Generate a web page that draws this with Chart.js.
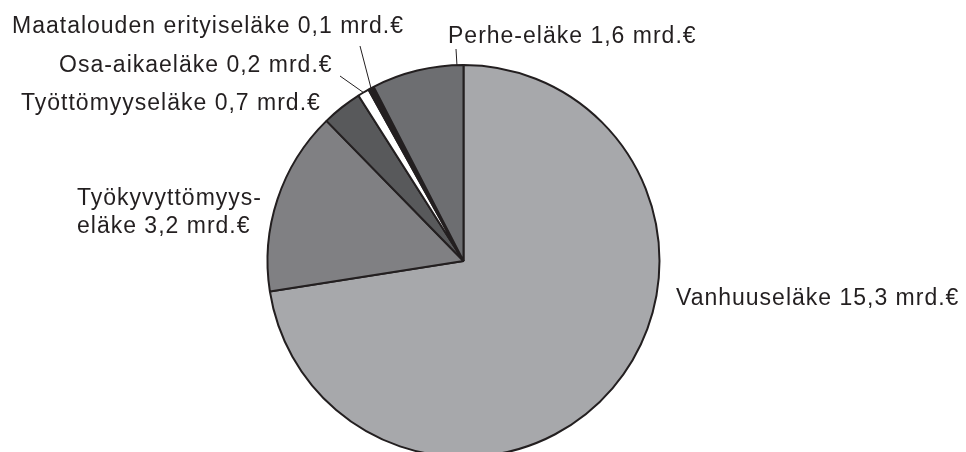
<!DOCTYPE html>
<html>
<head>
<meta charset="utf-8">
<script src="https://cdn.jsdelivr.net/npm/chart.js@4"></script>
<style>
  html, body { margin: 0; padding: 0; background: #fff; overflow: hidden; }
  #wrap { width: 966px; height: 470px; }
</style>
</head>
<body>
<div id="wrap"><canvas id="pensionChart" width="966" height="470"></canvas></div>
<script>
// Pension expenditure by type, billion euros
const categories = [
    'Vanhuuseläke',
    'Työkyvyttömyyseläke',
    'Työttömyyseläke',
    'Osa-aikaeläke',
    'Maatalouden erityiseläke',
    'Perhe-eläke'
];
const amounts = [15.3, 3.2, 0.7, 0.2, 0.1, 1.6];
const sliceColors = ['#a7a8ab', '#808083', '#58595b', '#ffffff', '#231f20', '#6d6e71'];

// label text lines for each slice (shown as in the original)
const labelLines = [
    ['Vanhuuseläke 15,3 mrd.€'],
    ['Työkyvyttömyys-', 'eläke 3,2 mrd.€'],
    ['Työttömyyseläke 0,7 mrd.€'],
    ['Osa-aikaeläke 0,2 mrd.€'],
    ['Maatalouden erityiseläke 0,1 mrd.€'],
    ['Perhe-eläke 1,6 mrd.€']
];

// where each label sits (baseline), and an optional leader line
// leader: start point + fraction along the slice arc where it ends
const labelPlacement = [
    { x: 676, y: 305, leader: null },
    { x: 77, y: 205, leader: null },
    { x: 21, y: 110, leader: null },
    { x: 59, y: 72, leader: { x: 340, y: 76, at: 0.5 } },
    { x: 12, y: 33, leader: { x: 360, y: 46, at: 0.5 } },
    { x: 448, y: 43, leader: { x: 456, y: 49, at: 0.93 } }
];

const labelPlugin = {
    id: 'sliceLabels',
    afterDraw(chart) {
        const ctx = chart.ctx;
        const arcs = chart.getDatasetMeta(0).data;
        ctx.save();
        ctx.fillStyle = '#231f20';
        ctx.strokeStyle = '#231f20';
        ctx.font = '23px "Liberation Sans", Arial, sans-serif';
        ctx.letterSpacing = '1px';
        ctx.textBaseline = 'alphabetic';
        ctx.textAlign = 'left';
        labelPlacement.forEach((p, i) => {
            labelLines[i].forEach((line, k) => {
                ctx.fillText(line, p.x, p.y + k * 28);
            });
            if (p.leader) {
                const arc = arcs[i];
                const a = arc.startAngle + (arc.endAngle - arc.startAngle) * p.leader.at;
                const r = arc.outerRadius;
                ctx.lineWidth = 1;
                ctx.beginPath();
                ctx.moveTo(p.leader.x, p.leader.y);
                ctx.lineTo(arc.x + Math.cos(a) * r, arc.y + Math.sin(a) * r);
                ctx.stroke();
            }
        });
        ctx.restore();
    }
};

const ctx = document.getElementById('pensionChart').getContext('2d');
new Chart(ctx, {
    type: 'pie',
    data: {
        labels: categories,
        datasets: [{
            data: amounts,
            backgroundColor: sliceColors,
            borderColor: '#231f20',
            borderWidth: 2
        }]
    },
    options: {
        responsive: false,
        animation: false,
        layout: {
            padding: { top: 64, bottom: 12, left: 250, right: 289 }
        },
        plugins: {
            legend: { display: false },
            tooltip: { enabled: false }
        }
    },
    plugins: [labelPlugin]
});
</script>
</body>
</html>
